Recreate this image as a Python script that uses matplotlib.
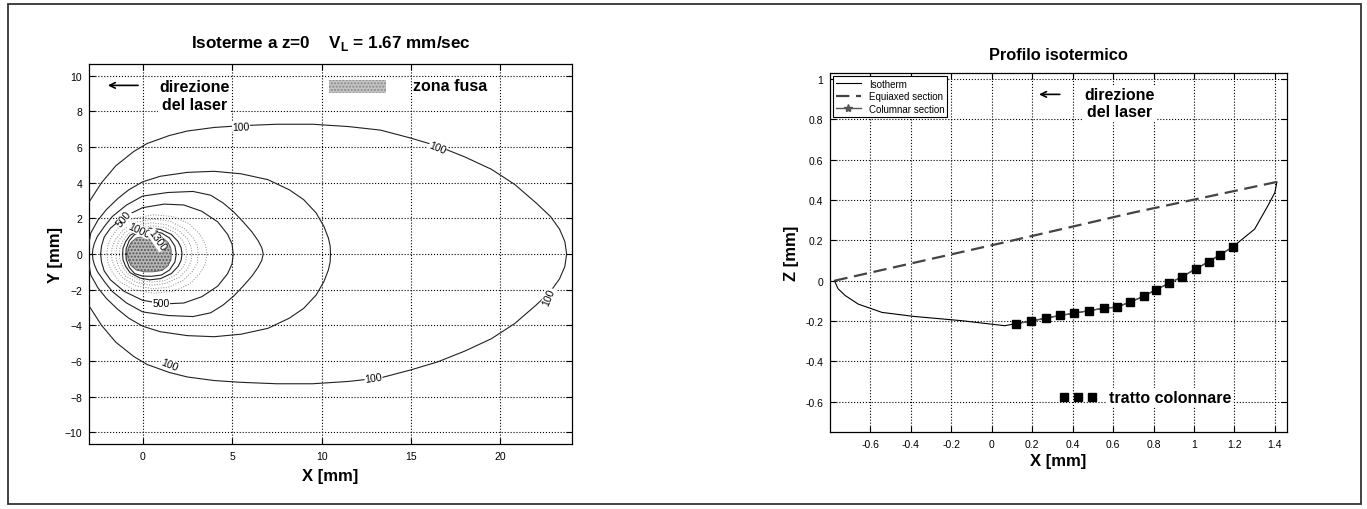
import numpy as np
import matplotlib.pyplot as plt
from matplotlib.patches import Rectangle

plt.rcParams['font.family'] = ['Liberation Sans', 'DejaVu Sans']
plt.rcParams['axes.unicode_minus'] = True

# ---------------- isotherms at z=0 (upper halves, field is symmetric in y) ----
iso100_x = [-3.7, -3.65, -3.4, -3.03, -2.3, -1.5, -0.5, 0.25, 1.5, 2.5, 4.0, 5.5, 7.5,
            9.5, 11.5, 13.3, 15.0, 16.5, 18.0, 19.5, 20.8, 22.0, 22.8, 23.3, 23.6, 23.7]
iso100_y = [0.0, 0.9, 1.7, 2.86, 4.0, 4.95, 5.75, 6.2, 6.65, 6.9, 7.1, 7.2, 7.28,
            7.28, 7.15, 6.95, 6.5, 6.05, 5.45, 4.75, 3.9, 2.86, 2.1, 1.4, 0.7, 0.0]

iso200_x = [-3.05, -3.0, -2.9, -2.5, -2.03, -1.4, -0.78, 0.0, 0.98, 2.5, 4.0, 5.5, 7.0,
            8.2, 9.0, 9.7, 10.13, 10.38, 10.48, 10.5]
iso200_y = [0.0, 0.6, 1.18, 1.9, 2.49, 3.1, 3.6, 4.05, 4.36, 4.58, 4.64, 4.5, 4.17,
            3.6, 3.05, 2.3, 1.55, 0.9, 0.45, 0.0]

iso300_x = [-2.81, -2.78, -2.7, -2.53, -2.1, -1.69, -0.9, 0.0, 1.4, 2.81, 3.8, 4.5,
            5.1, 5.62, 6.1, 6.45, 6.66, 6.74]
iso300_y = [0.0, 0.3, 0.6, 0.99, 1.6, 2.11, 2.75, 3.25, 3.45, 3.51, 3.3, 2.86,
            2.35, 1.8, 1.25, 0.75, 0.35, 0.0]

iso500_x = [-2.35, -2.3, -2.15, -1.8, -1.03, 0.0, 1.2, 2.3, 3.3, 4.2, 4.75, 5.0, 5.06]
iso500_y = [0.0, 0.45, 0.95, 1.45, 2.1, 2.6, 2.8, 2.75, 2.4, 1.8, 1.1, 0.55, 0.0]

# intermediate levels 600..900, drawn dotted
iso600_x = [-2.0, -1.95, -1.75, -1.3, -0.5, 0.6, 1.7, 2.6, 3.2, 3.5, 3.6]
iso600_y = [0.0, 0.45, 0.95, 1.55, 2.0, 2.2, 2.1, 1.7, 1.1, 0.55, 0.0]
iso700_x = [-1.75, -1.7, -1.5, -1.1, -0.4, 0.6, 1.5, 2.3, 2.8, 3.05, 3.1]
iso700_y = [0.0, 0.4, 0.85, 1.35, 1.78, 1.95, 1.85, 1.45, 0.95, 0.5, 0.0]
iso800_x = [-1.5, -1.46, -1.3, -0.95, -0.3, 0.5, 1.3, 2.05, 2.5, 2.7, 2.75]
iso800_y = [0.0, 0.38, 0.8, 1.25, 1.6, 1.75, 1.65, 1.3, 0.85, 0.42, 0.0]
iso900_x = [-1.3, -1.27, -1.1, -0.8, -0.2, 0.5, 1.2, 1.85, 2.25, 2.42, 2.45]
iso900_y = [0.0, 0.35, 0.75, 1.15, 1.45, 1.58, 1.5, 1.18, 0.75, 0.38, 0.0]

iso1000_x = [-1.12, -1.1, -0.95, -0.7, -0.15, 0.4, 1.0, 1.6, 1.98, 2.15, 2.2]
iso1000_y = [0.0, 0.32, 0.7, 1.05, 1.35, 1.45, 1.38, 1.1, 0.7, 0.35, 0.0]
iso1300_x = [-0.93, -0.92, -0.75, -0.45, 0.0, 0.5, 1.05, 1.5, 1.8, 1.88]
iso1300_y = [0.0, 0.3, 0.75, 1.1, 1.24, 1.25, 1.18, 0.9, 0.45, 0.0]
# molten pool (zona fusa)
melt_x = [-0.84, -0.82, -0.65, -0.35, 0.1, 0.6, 1.1, 1.42, 1.58, 1.6]
melt_y = [0.0, 0.3, 0.65, 0.9, 1.0, 1.0, 0.92, 0.65, 0.32, 0.0]

solid_levels = [(iso100_x, iso100_y), (iso200_x, iso200_y), (iso300_x, iso300_y),
                (iso500_x, iso500_y), (iso1000_x, iso1000_y), (iso1300_x, iso1300_y)]
dotted_levels = [(iso600_x, iso600_y), (iso700_x, iso700_y),
                 (iso800_x, iso800_y), (iso900_x, iso900_y)]

# clabel text, position and angle
contour_labels = [("100", 5.5, 7.16, 2), ("100", 16.5, 6.0, -22), ("100", 22.7, -2.4, 68),
                  ("100", 12.9, -6.95, 8), ("100", 1.48, -6.2, -22),
                  ("500", -1.03, 2.0, 50), ("500", 1.03, -2.75, 0),
                  ("1000", -0.2, 1.35, -25), ("1300", 0.8, 0.8, -55)]

# ---------------- longitudinal isothermal profile ----------------------------
isotherm_x = [-0.778, -0.76, -0.724, -0.66, -0.543, -0.384, -0.149, 0.064,
              0.118, 0.195, 0.269, 0.339, 0.408, 0.483, 0.556, 0.618, 0.683,
              0.752, 0.811, 0.877, 0.941, 1.008, 1.072, 1.131, 1.191,
              1.30, 1.365, 1.40, 1.41]
isotherm_z = [0.0, -0.04, -0.074, -0.116, -0.157, -0.177, -0.198, -0.223,
              -0.213, -0.200, -0.185, -0.172, -0.161, -0.148, -0.136, -0.131, -0.106,
              -0.077, -0.044, -0.013, 0.020, 0.058, 0.094, 0.130, 0.167,
              0.256, 0.371, 0.437, 0.49]

equiaxed_x = [-0.778, 0.044, 0.70, 1.41]
equiaxed_z = [0.0, 0.186, 0.338, 0.49]

columnar_x = isotherm_x[8:25]
columnar_z = isotherm_z[8:25]


def closed(xs, ys):
    # mirror the upper half about y=0 to get the full loop
    return list(xs) + list(xs[::-1]), list(ys) + [-v for v in ys[::-1]]


def matlab_axes(ax):
    ax.grid(True, color='k', linestyle=':', linewidth=0.8)
    ax.tick_params(direction='in', top=True, right=True, length=4,
                   labelsize=7.5, pad=5)
    for s in ax.spines.values():
        s.set_linewidth(0.9)


fig = plt.figure(figsize=(13.67, 5.10), dpi=100)

# ---------------- left: isotherms -------------------------------------------
ax1 = fig.add_axes([89 / 1367, 65 / 510, 483 / 1367, 380 / 510])
mx, my = closed(melt_x, melt_y)
ax1.fill(mx, my, facecolor='#b8b8b8', edgecolor='#555555', lw=0.6,
         hatch='.....', zorder=3)
for xs, ys in solid_levels:
    cx, cy = closed(xs, ys)
    ax1.plot(cx, cy, color='#222222', lw=0.8, zorder=4)
for xs, ys in dotted_levels:
    cx, cy = closed(xs, ys)
    ax1.plot(cx, cy, color='#8a8a8a', lw=0.7, linestyle=':', zorder=4)
for txt, lx, ly, rot in contour_labels:
    ax1.text(lx, ly, txt, fontsize=7.5, rotation=rot, ha='center', va='center',
             zorder=5, bbox=dict(facecolor='white', edgecolor='none', pad=0.2))

ax1.set_xlim(-3, 24)
ax1.set_ylim(-10.66, 10.66)
ax1.set_xticks([0, 5, 10, 15, 20])
ax1.set_yticks(np.arange(-10, 11, 2))
matlab_axes(ax1)
ax1.set_title(r"Isoterme a z=0    V$_\mathregular{L}$ = 1.67 mm/sec",
              fontsize=12.3, fontweight='bold', pad=12)
ax1.set_xlabel("X [mm]", fontsize=12, fontweight='bold', labelpad=5)
ax1.set_ylabel("Y [mm]", fontsize=12, fontweight='bold', labelpad=1)

ax1.annotate("", xy=(-2.1, 9.46), xytext=(-0.1, 9.46),
             arrowprops=dict(arrowstyle='->', lw=1.2, color='k'))
ax1.text(2.9, 8.9, "direzione\ndel laser", fontsize=11.5, fontweight='bold',
         ha='center', va='center', linespacing=1.2,
         bbox=dict(facecolor='white', edgecolor='none', pad=1))
ax1.add_patch(Rectangle((10.4, 9.06), 3.2, 0.72, facecolor='#c4c4c4',
                        edgecolor='#8a8a8a', lw=0, hatch='.....', zorder=3))
ax1.text(17.2, 9.45, "zona fusa", fontsize=11.5, fontweight='bold',
         ha='center', va='center',
         bbox=dict(facecolor='white', edgecolor='none', pad=1))

# ---------------- right: isothermal profile ---------------------------------
ax2 = fig.add_axes([830 / 1367, 77 / 510, 457 / 1367, 359 / 510])
ax2.plot(isotherm_x, isotherm_z, color='k', lw=0.8, label='Isotherm')
ax2.plot(equiaxed_x, equiaxed_z, color='#444444', lw=1.6,
         linestyle=(0, (6, 3)), label='Equiaxed section')
ax2.plot(columnar_x, columnar_z, color='#555555', lw=1.0, marker='*',
         markersize=6, label='Columnar section')
ax2.plot(columnar_x, columnar_z, linestyle='none', marker='s', markersize=6,
         color='k')

ax2.set_xlim(-0.8, 1.46)
ax2.set_ylim(-0.75, 1.03)
ax2.set_xticks(np.round(np.arange(-0.6, 1.41, 0.2), 1))
ax2.set_xticklabels(["-0.6", "-0.4", "-0.2", "0", "0.2", "0.4", "0.6", "0.8",
                     "1", "1.2", "1.4"])
ax2.set_yticks(np.round(np.arange(-0.6, 1.01, 0.2), 1))
ax2.set_yticklabels(["-0.6", "-0.4", "-0.2", "0", "0.2", "0.4", "0.6", "0.8", "1"])
matlab_axes(ax2)
ax2.set_title("Profilo isotermico", fontsize=11.8, fontweight='bold', pad=10)
ax2.set_xlabel("X [mm]", fontsize=12, fontweight='bold', labelpad=3)
ax2.set_ylabel("Z [mm]", fontsize=12, fontweight='bold', labelpad=4)

leg = ax2.legend(loc='upper left', fontsize=7, handlelength=2.6,
                 borderaxespad=0.3, framealpha=1, fancybox=False,
                 edgecolor='k', borderpad=0.3, labelspacing=0.25)
leg.get_frame().set_linewidth(0.8)

ax2.annotate("", xy=(0.22, 0.924), xytext=(0.35, 0.924),
             arrowprops=dict(arrowstyle='->', lw=1.2, color='k'))
ax2.text(0.63, 0.88, "direzione\ndel laser", fontsize=11.5, fontweight='bold',
         ha='center', va='center', linespacing=1.2,
         bbox=dict(facecolor='white', edgecolor='none', pad=1))
ax2.plot([0.358, 0.426, 0.494], [-0.578] * 3, linestyle='none', marker='s',
         markersize=6, color='k')
ax2.text(0.88, -0.578, "tratto colonnare", fontsize=11.5, fontweight='bold',
         ha='center', va='center',
         bbox=dict(facecolor='white', edgecolor='none', pad=1))

# outer frame around both panels
fig.add_artist(Rectangle((8 / 1367, 5 / 510), 1353 / 1367, 500 / 510,
                         transform=fig.transFigure, fill=False, lw=1.3,
                         edgecolor='#333333'))

fig.savefig("out.png", dpi=100)
